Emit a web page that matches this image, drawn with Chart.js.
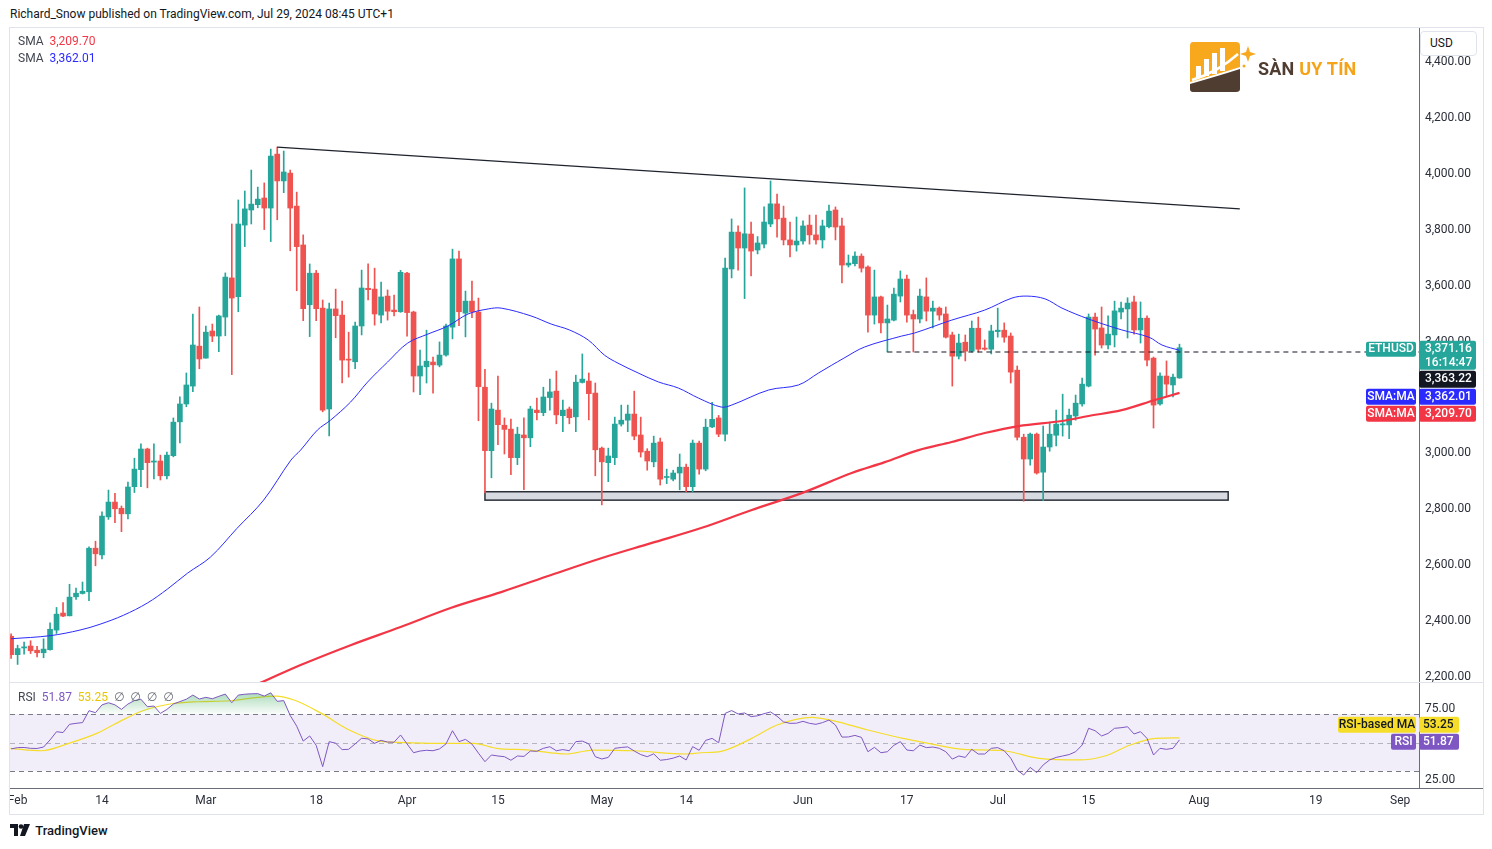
<!DOCTYPE html>
<html>
<head>
<meta charset="utf-8">
<title>ETHUSD</title>
<script src="https://cdn.jsdelivr.net/npm/chart.js@4.4.1/dist/chart.umd.min.js"></script>
<style>
  html, body { margin:0; padding:0; background:#ffffff; }
  body { width:1492px; height:849px; position:relative; overflow:hidden; font-family: Roboto, "Liberation Sans", "DejaVu Sans", sans-serif; color:#131722; }
  .abs { position:absolute; white-space:nowrap; }
  #header { left:10px; top:7px; font-size:12px; line-height:14px; color:#131722; }
  #frame { left:9px; top:27px; width:1475px; height:788px; border:1px solid #e0e3eb; box-sizing:border-box; }
  #priceCanvas { position:absolute; left:10px; top:28px; }
  #rsiCanvas { position:absolute; left:10px; top:683px; }
  #sep { left:10px; top:682px; width:1473px; height:1px; background:#e0e3eb; }
  #xline { left:10px; top:788px; width:1473px; height:1px; background:#6a6d78; }
  .legend { font-size:12px; line-height:14px; color:#434651; }
  #usd { left:1420px; top:31px; width:57px; height:25px; border:1px solid #e0e3eb; border-radius:4px; background:#fff; font-size:12px; line-height:23px; padding-left:9px; box-sizing:border-box; color:#131722; }
  #logoText { left:1258px; top:58px; font-size:18px; font-weight:700; line-height:22px; letter-spacing:0.2px; }
  #footer { left:10px; top:823px; font-size:13px; line-height:16px; font-weight:500; color:#131722; }
</style>
</head>
<body>
<div class="abs" id="header">Richard_Snow published on TradingView.com, Jul 29, 2024 08:45 UTC+1</div>
<div class="abs" id="frame"></div>
<canvas id="priceCanvas" width="1472" height="655"></canvas>
<canvas id="rsiCanvas" width="1472" height="130"></canvas>
<div class="abs" id="sep"></div>
<div class="abs" id="xline"></div>
<div class="abs legend" style="left:18px;top:34px;">SMA&nbsp; <span style="color:#f23645">3,209.70</span></div>
<div class="abs legend" style="left:18px;top:51px;">SMA&nbsp; <span style="color:#2b2bff">3,362.01</span></div>
<div class="abs legend" style="left:18px;top:690px;">RSI&nbsp; <span style="color:#7e57c2">51.87</span>&nbsp; <span style="color:#e8c600">53.25</span>&nbsp; <span style="color:#6a6d78">∅&nbsp; ∅&nbsp; ∅&nbsp; ∅</span></div>
<div class="abs" id="usd">USD</div>
<svg class="abs" style="left:1188px;top:40px;" width="68" height="54" viewBox="0 0 68 54">
  <path d="M5 2 H48 Q52 2 52 6 V27 Q30 34 2 42 V6 Q2 2 5 2 Z" fill="#f8a81c"/>
  <path d="M2 44 Q30 36 52 29 V49 Q52 52 48 52 H5 Q2 52 2 49 Z" fill="#4f3d31"/>
  <rect x="8" y="26" width="5" height="12" fill="#fff"/>
  <rect x="16" y="19" width="5" height="17" fill="#fff"/>
  <rect x="24" y="13" width="5" height="21" fill="#fff"/>
  <rect x="32" y="8" width="5" height="23" fill="#fff"/>
  <path d="M4 40 Q30 32 50 14" stroke="#fff" stroke-width="2.5" fill="none"/>
  <path d="M60 6 L62 12 L68 14 L62 16 L60 22 L58 16 L52 14 L58 12 Z" fill="#f8a81c"/>
  <circle cx="56" cy="26" r="1.5" fill="#f8a81c"/>
</svg>
<div class="abs" id="logoText"><span style="color:#4f3d31">SÀN</span> <span style="color:#f5a41a">UY TÍN</span></div>
<div class="abs" id="footer">
  <svg width="20" height="12" viewBox="0 0 20 12" style="vertical-align:-1px">
    <path d="M0 0 H8 V12 H4 V4 H0 Z" fill="#131722"/>
    <circle cx="11" cy="2.5" r="2.3" fill="#131722"/>
    <path d="M14 0 H20 L15 12 H10 Z" fill="#131722"/>
  </svg>
  <span style="margin-left:2px">TradingView</span>
</div>

<script>
// ---------------- DATA ----------------
// day index: 0 = Feb 1 2024; first candle is Jan 31 (day -1)
const firstDay = -1;
const opens = [
  2339,2273,2297,2304,2289,2280,2291,2361,2422,2412,
  2480,2492,2498,2654,2630,2766,2819,2797,2777,2874,
  2935,3009,2962,2966,2913,2985,3106,3170,3234,3377,
  3334,3431,3413,3481,3621,3554,3810,3864,3883,3907,
  3871,4064,3968,3996,3878,3739,3525,3638,3513,3152,
  3510,3488,3330,3321,3449,3584,3581,3488,3556,3506,
  3500,3638,3499,3270,3303,3320,3309,3345,3445,3689,
  3495,3538,3499,3230,3003,3148,3094,3080,2978,3059,
  3049,3148,3139,3193,3216,3128,3152,3124,3247,3252,
  3209,3012,2960,2978,3098,3112,3134,3059,3001,2963,
  3034,2907,2901,2923,2944,2874,3030,2937,3088,3120,
  3062,3653,3785,3728,3778,3721,3742,3814,3886,3835,
  3757,3739,3753,3810,3775,3757,3804,3864,3807,3667,
  3672,3699,3660,3488,3553,3460,3470,3556,3617,3490,
  3474,3553,3502,3513,3492,3417,3341,3391,3359,3441,
  3370,3366,3429,3434,3413,3291,3051,2973,3062,2926,
  3016,3058,3095,3095,3127,3170,3234,3481,3442,3381,
  3417,3499,3510,3535,3435,3477,3334,3170,3270,3238,
  3263
];
const highs = [
  2348,2307,2318,2323,2303,2330,2387,2442,2459,2525,
  2511,2533,2659,2679,2784,2862,2850,2805,2891,2976,
  3027,3012,3027,2987,2998,3120,3196,3281,3492,3517,
  3449,3456,3488,3639,3814,3900,3932,4007,3946,3961,
  4082,4089,4075,4007,3928,3775,3671,3648,3542,3531,
  3581,3538,3427,3463,3649,3671,3656,3606,3578,3560,
  3648,3641,3502,3363,3434,3338,3392,3456,3724,3717,
  3574,3610,3549,3294,3173,3270,3120,3116,3087,3120,
  3162,3191,3230,3259,3288,3184,3159,3273,3349,3281,
  3245,3016,3012,3123,3166,3166,3216,3123,3010,3055,
  3048,2937,2933,2991,2955,3041,3037,3116,3176,3129,
  3692,3832,3807,3943,3821,3769,3875,3968,3921,3878,
  3821,3839,3825,3846,3846,3828,3882,3875,3835,3703,
  3714,3707,3664,3649,3556,3524,3585,3646,3631,3506,
  3581,3621,3538,3517,3517,3427,3420,3417,3467,3481,
  3399,3452,3513,3460,3424,3306,3062,3066,3066,3091,
  3105,3148,3205,3152,3202,3263,3492,3495,3517,3485,
  3538,3535,3550,3556,3535,3485,3338,3281,3324,3277,
  3384
];
const lows = [
  2260,2238,2275,2277,2265,2262,2289,2349,2409,2412,
  2471,2490,2466,2591,2616,2757,2745,2713,2759,2853,
  2874,2870,2902,2898,2902,2981,3031,3160,3214,3296,
  3334,3393,3357,3414,3275,3500,3733,3814,3872,3794,
  3751,3829,3926,3718,3575,3468,3411,3468,3142,3056,
  3407,3245,3266,3296,3417,3542,3452,3460,3470,3485,
  3498,3413,3213,3203,3245,3209,3303,3341,3403,3450,
  3410,3479,3110,2852,2906,3024,2991,2917,2953,2863,
  3017,3113,3128,3148,3099,3071,3099,3071,3245,3113,
  2913,2809,2892,2953,3091,3071,3042,2980,2933,2945,
  2880,2885,2895,2863,2856,2856,2919,2931,3085,3053,
  3038,3621,3649,3547,3628,3707,3728,3804,3767,3739,
  3696,3717,3742,3742,3742,3728,3800,3757,3603,3660,
  3664,3642,3427,3456,3424,3356,3467,3535,3463,3356,
  3460,3467,3442,3470,3406,3234,3331,3324,3356,3356,
  3363,3349,3409,3391,3245,3041,2822,2951,2919,2824,
  3001,3020,3055,3046,3112,3162,3231,3345,3370,3367,
  3374,3474,3406,3420,3388,3306,3084,3166,3198,3195,
  3262
];
const closes = [
  2273,2295,2301,2287,2280,2293,2364,2418,2411,2479,
  2493,2500,2654,2634,2769,2819,2795,2777,2873,2937,
  3009,2960,2966,2913,2987,3105,3170,3238,3381,3331,
  3427,3413,3485,3624,3549,3814,3868,3885,3903,3871,
  4057,3968,4000,3871,3733,3511,3638,3511,3148,3510,
  3486,3327,3327,3449,3585,3579,3492,3553,3502,3500,
  3641,3497,3270,3306,3323,3310,3345,3449,3689,3500,
  3538,3499,3232,3003,3152,3096,3079,2978,3062,3049,
  3152,3139,3195,3213,3131,3148,3121,3248,3259,3207,
  3006,2963,2984,3098,3112,3134,3055,2998,2966,3030,
  2901,2910,2923,2944,2874,3030,2937,3087,3115,3062,
  3656,3785,3728,3779,3717,3746,3821,3886,3832,3757,
  3739,3753,3807,3775,3757,3807,3860,3803,3667,3674,
  3699,3656,3488,3553,3460,3474,3563,3617,3488,3474,
  3556,3502,3513,3488,3409,3341,3388,3359,3441,3366,
  3366,3431,3434,3409,3284,3051,2973,3062,2923,3016,
  3062,3098,3099,3130,3173,3241,3481,3438,3381,3420,
  3503,3513,3531,3435,3477,3327,3166,3270,3241,3266,
  3371.16
];
const rsiValues = [
  45.5,46.4,46.5,45.9,45.8,46.8,51.8,57.6,57.0,62.8,
  63.5,64.0,72.4,71.0,76.5,78.0,76.5,73.3,77.1,79.5,
  80.5,75.2,75.7,70.5,73.3,77.1,78.8,80.5,83.4,80.6,
  81.8,80.8,82.5,84.1,78.0,83.4,84.0,84.3,84.4,82.7,
  85.0,79.0,79.5,69.0,61.5,51.0,54.6,48.0,33.0,50.6,
  49.5,45.0,45.2,49.0,53.0,52.5,49.4,51.5,50.3,50.2,
  55.3,49.0,42.8,44.0,44.5,44.2,45.5,49.0,58.3,50.6,
  52.2,48.9,42.5,36.5,41.2,40.5,40.0,37.5,40.5,40.2,
  44.0,43.8,45.9,47.0,44.2,45.0,44.2,50.6,51.0,49.0,
  40.0,38.4,39.5,45.9,46.5,46.9,44.0,41.5,40.0,42.0,
  37.5,38.0,39.0,40.5,37.7,47.1,44.5,51.5,52.9,49.8,
  70.5,72.5,70.1,70.8,68.2,68.8,70.3,71.5,68.5,64.5,
  63.5,63.6,64.9,63.5,62.8,64.0,65.8,62.3,53.8,53.9,
  55.0,53.6,43.5,46.6,42.8,43.5,48.0,50.6,44.7,44.2,
  48.2,46.4,46.8,45.9,43.5,38.3,40.5,39.5,45.2,41.9,
  41.9,45.9,46.4,44.2,39.0,30.6,27.1,32.5,28.8,34.2,
  37.7,39.5,40.5,41.5,43.5,48.2,60.0,58.3,54.6,56.4,
  60.0,60.4,61.1,56.0,57.6,52.9,41.2,45.9,45.2,45.9,
  51.87
];
const rsiMaDays   = [-1.1, 3.7, 7.9, 12.2, 15.7, 19.3, 23.5, 27.7, 32.7, 37, 39.8, 42.6, 46.8, 51.1, 55.4, 59.6, 65.3, 70.3, 73.8, 78.8, 84.5, 88.7, 95.1, 102.9, 105.3, 108.4, 113.1, 117, 122.4, 125.6, 131, 136.4, 140.3, 145.7, 151.9, 157.4, 163.6, 167.5, 171.4, 175.3, 179];
const rsiMaValues = [45.9, 44.2, 49.4, 56.4, 64.7, 72.4, 77.1, 78.7, 79.4, 81.8, 82.7, 79.9, 70.5, 58.8, 51.3, 49.9, 49.4, 49.4, 45.9, 44.7, 41.9, 44.7, 44.2, 41.9, 42.8, 43.8, 52.9, 62.3, 67.7, 65.4, 58.8, 52.9, 49.4, 45.2, 44.2, 38.8, 37.7, 40.5, 48.2, 52.9, 53.25];
const sma50Days   = [-1, 5, 9.6, 12.7, 16.3, 20, 23.1, 26.2, 29.7, 33.8, 37.9, 42.1, 43.6, 46.2, 48.2, 51.3, 53.9, 57, 60.1, 63.2, 66.3, 69.4, 72.5, 74.5, 79.1, 82.2, 85, 87.9, 90.4, 92.5, 95.6, 98.7, 101.8, 104.9, 108.4, 110, 115.7, 120.3, 123.4, 127.3, 130.5, 136.2, 138.2, 143.9, 149, 153.2, 155.5, 158.3, 160.9, 165, 170.1, 174.3, 176.3, 179];
const sma50Values = [2330, 2341, 2361, 2382, 2414, 2458, 2508, 2565, 2622, 2725, 2826, 2969, 3005, 3077, 3112, 3177, 3248, 3320, 3388, 3420, 3449, 3492, 3510, 3513, 3485, 3456, 3435, 3399, 3345, 3316, 3281, 3249, 3227, 3191, 3159, 3166, 3220, 3238, 3281, 3334, 3374, 3413, 3424, 3470, 3506, 3549, 3556, 3546, 3513, 3474, 3435, 3409, 3381, 3362.01];
const sma200Days   = [36, 37.7, 43.6, 51.3, 59, 66.7, 74.5, 82.2, 89.9, 97.6, 105.3, 113, 120.8, 128.5, 133.6, 138.8, 143.9, 149, 154.2, 160.9, 165, 170.1, 175.2, 179];
const sma200Values = [2158, 2175, 2236, 2307, 2372, 2440, 2497, 2558, 2618, 2672, 2726, 2790, 2851, 2923, 2962, 3005, 3034, 3066, 3091, 3109, 3127, 3148, 3184, 3209.70];
const trendDays = [40, 188.3];
const trendPrices = [4089, 3868];
const levelDays = [134, 215.9];
const levelPrices = [3356, 3356];
const zoneDays = [72, 186.5];
const zonePrices = [2826, 2856];
const tickDays   = [0, 13, 29, 46, 60, 74, 90, 103, 121, 137, 151, 165, 182, 200, 213];
const tickLabels = ['Feb','14','Mar','18','Apr','15','May','14','Jun','17','Jul','15','Aug','19','Sep'];
const priceTicks = [2200, 2400, 2600, 2800, 3000, 3200, 3400, 3600, 3800, 4000, 4200, 4400];
const rsiTicks = [25, 75];
const lastPrice = 3371.16;
const countdown = '16:14:47';
const otherPrice = 3363.22;
const sma50Last = 3362.01;
const sma200Last = 3209.70;
const rsiLast = 51.87;
const rsiMaLast = 53.25;

// ---------------- STYLE / LAYOUT ----------------
const GREEN = '#26a69a', RED = '#ef5350';
const BLUE = '#2b2bff', SMA_RED = '#f23645';
const PURPLE = '#7e57c2', YELLOW = '#f5dd2a';
const AXIS_LINE = '#6a6d78';
const TEXT = '#2a2e39';
const X_MIN = -1.171, X_MAX = 215.9;
const P_MIN = 2171.7, P_MAX = 4515.2;
const R_MIN = 17.96, R_MAX = 91.9;
const AXIS_W = 63;

Chart.defaults.font.family = 'Roboto, "Liberation Sans", sans-serif';
Chart.defaults.font.size = 12;
Chart.defaults.color = TEXT;

const fmt2 = v => Number(v).toLocaleString('en-US', {minimumFractionDigits:2, maximumFractionDigits:2});
const xy = (xsArr, ysArr) => xsArr.map((x, i) => ({x, y: ysArr[i]}));
const days = closes.map((_, i) => firstDay + i);
const candleColors = closes.map((c, i) => c >= opens[i] ? GREEN : RED);
const noPad = s => { s.paddingTop = 0; s.paddingBottom = 0; s.paddingLeft = 0; s.paddingRight = 0; };

function box(ctx, x, y, w, h, bg, r) {
  ctx.fillStyle = bg;
  ctx.beginPath();
  if (ctx.roundRect) ctx.roundRect(x, y, w, h, r || 0); else ctx.rect(x, y, w, h);
  ctx.fill();
}
function label(ctx, text, x, y, color, align, weight) {
  ctx.fillStyle = color;
  ctx.font = (weight || '400') + ' 12px Roboto, "Liberation Sans", sans-serif';
  ctx.textAlign = align || 'left';
  ctx.textBaseline = 'middle';
  ctx.fillText(text, x, y);
}

const priceOverlay = {
  id: 'priceOverlay',
  beforeDatasetsDraw(chart) {
    const {ctx, scales: {x, y}} = chart;
    const x1 = x.getPixelForValue(zoneDays[0]), x2 = x.getPixelForValue(zoneDays[1]);
    const y1 = y.getPixelForValue(zonePrices[1]), y2 = y.getPixelForValue(zonePrices[0]);
    ctx.save();
    ctx.fillStyle = 'rgba(209,212,220,0.85)';
    ctx.fillRect(x1, y1, x2 - x1, y2 - y1);
    ctx.strokeStyle = '#2a2e39';
    ctx.lineWidth = 1.5;
    ctx.strokeRect(x1, y1, x2 - x1, y2 - y1);
    ctx.restore();
  },
  afterDraw(chart) {
    const {ctx, chartArea, scales: {y}} = chart;
    const axL = chartArea.right;
    const yl = y.getPixelForValue(lastPrice);
    ctx.save();
    box(ctx, axL, yl - 7, 57, 29, GREEN, 2);
    label(ctx, fmt2(lastPrice), axL + 6, yl + 1.5, '#fff', 'left', '500');
    label(ctx, countdown, axL + 6, yl + 15, '#fff', 'left', '500');
    box(ctx, axL - 53, yl - 6, 50, 15, GREEN, 2);
    label(ctx, 'ETHUSD', axL - 28, yl + 1.5, '#fff', 'center', '500');
    box(ctx, axL, yl + 23, 57, 17, '#131722', 2);
    label(ctx, fmt2(otherPrice), axL + 6, yl + 31.5, '#fff', 'left', '500');
    box(ctx, axL, yl + 41, 57, 16, BLUE, 2);
    label(ctx, fmt2(sma50Last), axL + 6, yl + 49, '#fff', 'left', '500');
    box(ctx, axL - 53, yl + 41, 50, 16, BLUE, 2);
    label(ctx, 'SMA:MA', axL - 28, yl + 49, '#fff', 'center', '500');
    box(ctx, axL, yl + 58, 57, 16, SMA_RED, 2);
    label(ctx, fmt2(sma200Last), axL + 6, yl + 66, '#fff', 'left', '500');
    box(ctx, axL - 53, yl + 58, 50, 16, SMA_RED, 2);
    label(ctx, 'SMA:MA', axL - 28, yl + 66, '#fff', 'center', '500');
    ctx.restore();
  }
};

const priceChart = new Chart(document.getElementById('priceCanvas'), {
  type: 'bar',
  data: {
    datasets: [
      { type: 'line', data: xy(sma50Days, sma50Values), borderColor: BLUE, borderWidth: 1, pointRadius: 0, tension: 0.35, order: 1 },
      { type: 'line', data: xy(sma200Days, sma200Values), borderColor: SMA_RED, borderWidth: 2.2, pointRadius: 0, tension: 0.35, order: 1 },
      { type: 'line', data: xy(trendDays, trendPrices), borderColor: '#1e222d', borderWidth: 1.2, pointRadius: 0, order: 1 },
      { type: 'line', data: xy(levelDays, levelPrices), borderColor: '#131722', borderWidth: 1.2, borderDash: [5, 4], pointRadius: 0, order: 1 },
      { type: 'bar', data: days.map((d, i) => ({x: d, y: [opens[i], closes[i]]})), backgroundColor: candleColors, barThickness: 5, minBarLength: 1, grouped: false, borderWidth: 0, order: 2 },
      { type: 'bar', data: days.map((d, i) => ({x: d, y: [lows[i], highs[i]]})), backgroundColor: candleColors, barThickness: 1, grouped: false, borderWidth: 0, order: 3 }
    ]
  },
  options: {
    responsive: false,
    animation: false,
    events: [],
    layout: { padding: 0, autoPadding: false },
    plugins: { legend: { display: false }, tooltip: { enabled: false } },
    scales: {
      x: { type: 'linear', min: X_MIN, max: X_MAX, offset: false, bounds: 'data', display: false, grid: { display: false } },
      y: {
        type: 'linear', position: 'right', min: P_MIN, max: P_MAX, bounds: 'data', beginAtZero: false,
        grid: { display: false, drawTicks: false },
        border: { display: true, color: AXIS_LINE },
        ticks: { padding: 6, labelOffset: 2, color: TEXT, callback: v => fmt2(v) },
        afterBuildTicks: s => { s.ticks = priceTicks.map(v => ({value: v})); },
        afterFit: s => { s.width = AXIS_W; noPad(s); }
      }
    }
  },
  plugins: [priceOverlay]
});

const rsiOverlay = {
  id: 'rsiOverlay',
  beforeDatasetsDraw(chart) {
    const {ctx, chartArea, scales: {y}} = chart;
    const y70 = y.getPixelForValue(70), y30 = y.getPixelForValue(30), y50 = y.getPixelForValue(50);
    ctx.save();
    ctx.fillStyle = 'rgba(126,87,194,0.10)';
    ctx.fillRect(chartArea.left, y70, chartArea.right - chartArea.left, y30 - y70);
    ctx.setLineDash([5, 4]);
    ctx.lineWidth = 1;
    ctx.strokeStyle = '#787b86';
    [y70, y30].forEach(yy => { ctx.beginPath(); ctx.moveTo(chartArea.left, Math.round(yy) + 0.5); ctx.lineTo(chartArea.right, Math.round(yy) + 0.5); ctx.stroke(); });
    ctx.strokeStyle = 'rgba(120,123,134,0.5)';
    ctx.beginPath(); ctx.moveTo(chartArea.left, Math.round(y50) + 0.5); ctx.lineTo(chartArea.right, Math.round(y50) + 0.5); ctx.stroke();
    ctx.restore();
  },
  afterDraw(chart) {
    const {ctx, chartArea, scales: {y}} = chart;
    const axL = chartArea.right;
    const yr = y.getPixelForValue(rsiLast);
    ctx.save();
    box(ctx, axL, yr - 6, 40, 16, PURPLE, 2);
    label(ctx, rsiLast.toFixed(2), axL + 4, yr + 2, '#fff', 'left', '500');
    box(ctx, axL - 28, yr - 6, 25, 16, PURPLE, 2);
    label(ctx, 'RSI', axL - 15.5, yr + 2, '#fff', 'center', '500');
    box(ctx, axL, yr - 23, 40, 16, YELLOW, 2);
    label(ctx, rsiMaLast.toFixed(2), axL + 4, yr - 15, '#131722', 'left', '500');
    box(ctx, axL - 81, yr - 23, 78, 16, YELLOW, 2);
    label(ctx, 'RSI-based MA', axL - 42, yr - 15, '#131722', 'center', '500');
    ctx.restore();
  }
};

const rsiChart = new Chart(document.getElementById('rsiCanvas'), {
  type: 'line',
  data: {
    datasets: [
      { data: xy(days, rsiValues), borderColor: PURPLE, borderWidth: 1, pointRadius: 0, tension: 0,
        fill: { target: { value: 70 }, above: 'rgba(76,175,80,0.3)', below: 'rgba(0,0,0,0)' }, order: 1 },
      { data: xy(days, rsiValues), borderWidth: 0, borderColor: 'rgba(0,0,0,0)', pointRadius: 0, tension: 0,
        fill: { target: { value: 30 }, above: 'rgba(0,0,0,0)', below: 'rgba(242,54,69,0.3)' }, order: 3 },
      { data: xy(rsiMaDays, rsiMaValues), borderColor: YELLOW, borderWidth: 1.2, pointRadius: 0, cubicInterpolationMode: 'monotone', fill: false, order: 2 }
    ]
  },
  options: {
    responsive: false,
    animation: false,
    events: [],
    layout: { padding: 0, autoPadding: false },
    plugins: { legend: { display: false }, tooltip: { enabled: false } },
    scales: {
      x: {
        type: 'linear', min: X_MIN, max: X_MAX, offset: false, bounds: 'data', position: 'bottom',
        grid: { display: false, drawTicks: false },
        border: { display: false },
        ticks: { autoSkip: false, maxRotation: 0, padding: 6, color: TEXT, callback: (v, i) => tickLabels[i] },
        afterBuildTicks: s => { s.ticks = tickDays.map(v => ({value: v})); },
        afterFit: s => { s.height = 25; noPad(s); }
      },
      y: {
        type: 'linear', position: 'right', min: R_MIN, max: R_MAX, bounds: 'data',
        grid: { display: false, drawTicks: false },
        border: { display: true, color: AXIS_LINE },
        ticks: { padding: 6, labelOffset: 2, color: TEXT, callback: v => Number(v).toFixed(2) },
        afterBuildTicks: s => { s.ticks = rsiTicks.map(v => ({value: v})); },
        afterFit: s => { s.width = AXIS_W; noPad(s); }
      }
    }
  },
  plugins: [rsiOverlay]
});

(function () {
  const ys = rsiChart.scales.y, c = rsiChart.ctx;
  const g = c.createLinearGradient(0, ys.getPixelForValue(86), 0, ys.getPixelForValue(70));
  g.addColorStop(0, 'rgba(56,170,90,0.45)');
  g.addColorStop(1, 'rgba(56,170,90,0.02)');
  const r = c.createLinearGradient(0, ys.getPixelForValue(30), 0, ys.getPixelForValue(18));
  r.addColorStop(0, 'rgba(242,54,69,0.02)');
  r.addColorStop(1, 'rgba(242,54,69,0.45)');
  rsiChart.data.datasets[0].fill.above = g;
  rsiChart.data.datasets[1].fill.below = r;
  rsiChart.update('none');
})();
</script>
</body>
</html>
